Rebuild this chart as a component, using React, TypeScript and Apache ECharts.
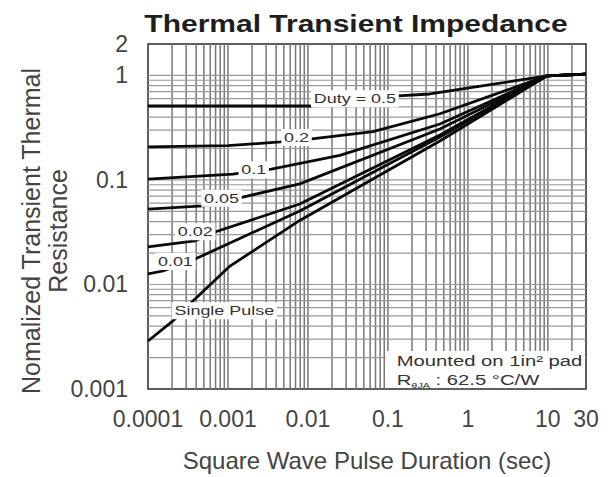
import React, { useEffect, useRef } from "react";
import * as echarts from "echarts";

const FONT = "'Liberation Sans', Arial, Helvetica, sans-serif";

// Axis ranges
const xMin = 0.0001;
const xMax = 30;
const yMin = 0.001;
const yMax = 2;

// Log grid construction (multipliers inside each decade)
const gridMultipliers = [1, 2, 3, 4, 5, 6, 7, 8, 9];
const xDecadeExponents = [-4, -3, -2, -1, 0, 1];
const yDecadeExponents = [-3, -2, -1, 0];

// Curves: [pulse duration (s), normalized transient thermal resistance]
const dutyHalf: number[][] = [
  [0.0001, 0.51], [0.0106, 0.51], [0.133, 0.637], [0.335, 0.665], [9.7, 0.99], [30, 1.03],
];
const duty02: number[][] = [
  [0.0001, 0.207], [0.001, 0.213], [0.0045, 0.231], [0.0112, 0.247], [0.065, 0.29], [0.447, 0.43], [9.7, 0.99], [30, 1.03],
];
const duty01: number[][] = [
  [0.0001, 0.102], [0.00115, 0.114], [0.0035, 0.127], [0.025, 0.172], [0.447, 0.343], [9.7, 0.99], [30, 1.03],
];
const duty005: number[][] = [
  [0.0001, 0.0527], [0.000487, 0.0564], [0.00154, 0.0687], [0.0079, 0.0917], [0.447, 0.307], [9.7, 0.99], [30, 1.03],
];
const duty002: number[][] = [
  [0.0001, 0.0229], [0.000387, 0.0261], [0.000688, 0.0318], [0.0079, 0.0589], [0.447, 0.27], [9.7, 0.99], [30, 1.03],
];
const duty001: number[][] = [
  [0.0001, 0.0126], [0.000154, 0.01346], [0.000387, 0.0175], [0.0079, 0.0505], [0.447, 0.258], [9.7, 0.99], [30, 1.03],
];
const singlePulse: number[][] = [
  [0.0001, 0.00288], [0.000205, 0.00448], [0.000387, 0.00727], [0.00106, 0.015], [0.0079, 0.041], [0.447, 0.236], [9.7, 0.99], [30, 1.03],
];

const curveData = [dutyHalf, duty02, duty01, duty005, duty002, duty001, singlePulse];
const curveLabelTexts = ["Duty = 0.5", "0.2", "0.1", "0.05", "0.02", "0.01", "Single Pulse"];
const curveLabelAnchors: number[][] = [
  [0.0387, 0.6], [0.0072, 0.255], [0.0021, 0.125], [0.00083, 0.067], [0.00039, 0.032], [0.00022, 0.0166], [0.0009, 0.0056],
];

const titleText = "Thermal Transient Impedance";
const xAxisTitle = "Square Wave Pulse Duration (sec)";
const yAxisTitle = "Nomalized Transient Thermal\nResistance";
const noteLine1 = "Mounted on 1in\u00B2 pad";
const noteBoxCorner = [0.094, 0.00231];

function fmt(v: number): string {
  return String(+Number(v).toPrecision(6));
}

export default function App() {
  const ref = useRef<HTMLDivElement>(null);

  useEffect(() => {
    const el = ref.current!;
    const chart = echarts.init(el, null, { renderer: "svg" });

    const vValues: number[] = [];
    xDecadeExponents.forEach((e) =>
      gridMultipliers.forEach((m) => {
        const v = +(m * Math.pow(10, e)).toPrecision(6);
        if (v > xMin && v < xMax) vValues.push(v);
      })
    );
    const hValues: number[] = [];
    yDecadeExponents.forEach((e) =>
      gridMultipliers.forEach((m) => {
        const v = +(m * Math.pow(10, e)).toPrecision(6);
        if (v > yMin && v < yMax) hValues.push(v);
      })
    );

    const curveSeries = curveData.map((data, i) => ({
      type: "line",
      name: curveLabelTexts[i],
      data,
      showSymbol: false,
      symbol: "none",
      silent: true,
      z: 3,
      lineStyle: { color: "#0a0a0a", width: 2.8 },
    }));

    chart.setOption({
      animation: false,
      backgroundColor: "#ffffff",
      grid: {
        left: 148,
        right: 26,
        top: 44,
        bottom: 87,
        show: true,
        borderColor: "#2a2a2a",
        borderWidth: 1.5,
        backgroundColor: "#ffffff",
      },
      xAxis: {
        type: "log",
        logBase: 10,
        min: xMin,
        max: xMax,
        axisLine: { show: false },
        axisTick: { show: false },
        splitLine: { show: false },
        axisLabel: {
          fontSize: 23,
          color: "#444",
          fontFamily: FONT,
          margin: 18,
          formatter: (v: number) => fmt(v),
        },
        name: xAxisTitle,
        nameLocation: "middle",
        nameGap: 59,
        nameTextStyle: { fontSize: 24, color: "#444", fontFamily: FONT },
      },
      yAxis: {
        type: "log",
        logBase: 10,
        min: yMin,
        max: yMax,
        axisLine: { show: false },
        axisTick: { show: false },
        splitLine: { show: false },
        axisLabel: {
          fontSize: 23,
          color: "#444",
          fontFamily: FONT,
          margin: 20,
          formatter: (v: number) => fmt(v),
        },
      },
      series: [
        {
          type: "custom",
          silent: true,
          z: 1,
          data: vValues.map((v) => [v, yMin]),
          encode: { x: 0, y: 1 },
          renderItem: (_p: any, api: any) => {
            const v = api.value(0);
            const a = api.coord([v, yMin]);
            const b = api.coord([v, yMax]);
            return {
              type: "line",
              shape: { x1: a[0], y1: a[1], x2: b[0], y2: b[1] },
              style: { stroke: "#777777", lineWidth: 1.5 },
            };
          },
        },
        {
          type: "custom",
          silent: true,
          z: 1,
          data: hValues.map((v) => [xMin, v]),
          encode: { x: 0, y: 1 },
          renderItem: (_p: any, api: any) => {
            const v = api.value(1);
            const a = api.coord([xMin, v]);
            const b = api.coord([xMax, v]);
            return {
              type: "line",
              shape: { x1: a[0], y1: a[1], x2: b[0], y2: b[1] },
              style: { stroke: "#999999", lineWidth: 1.2 },
            };
          },
        },
        ...curveSeries,
      ],
    });

    const px = (p: number[]) => chart.convertToPixel({ gridIndex: 0 }, p) as number[];

    const labelEls = curveLabelTexts.map((t, i) => {
      const [x, y] = px(curveLabelAnchors[i]);
      return {
        type: "text",
        x,
        y,
        scaleX: 1.38,
        z: 20,
        silent: true,
        style: {
          text: t,
          x: 0,
          y: 0,
          align: "center",
          verticalAlign: "middle",
          fontSize: 13,
          fontFamily: FONT,
          fill: "#333",
          backgroundColor: "#fff",
          padding: [2, 2],
        },
      };
    });

    const c1 = px(noteBoxCorner);
    const c2 = px([xMax, yMin]);

    chart.setOption({
      graphic: [
        {
          type: "text",
          x: 356,
          y: 24,
          scaleX: 1.25,
          silent: true,
          style: {
            text: titleText,
            x: 0,
            y: 0,
            align: "center",
            verticalAlign: "middle",
            fontSize: 24,
            fontWeight: "bold",
            fontFamily: FONT,
            fill: "#1e1e1e",
          },
        },
        {
          type: "text",
          x: 44,
          y: 231,
          rotation: Math.PI / 2,
          silent: true,
          style: {
            text: yAxisTitle,
            x: 0,
            y: 0,
            align: "center",
            verticalAlign: "middle",
            fontSize: 25,
            lineHeight: 27,
            fontFamily: FONT,
            fill: "#444",
          },
        },
        ...labelEls,
        {
          type: "rect",
          z: 15,
          silent: true,
          shape: { x: c1[0], y: c1[1], width: c2[0] - c1[0] - 1, height: c2[1] - c1[1] - 1 },
          style: { fill: "#fff" },
        },
        {
          type: "text",
          x: c1[0] + 11,
          y: c1[1] + 10,
          scaleX: 1.35,
          z: 20,
          silent: true,
          style: {
            text: noteLine1,
            x: 0,
            y: 0,
            align: "left",
            verticalAlign: "middle",
            fontSize: 15,
            fontFamily: FONT,
            fill: "#333",
          },
        },
        {
          type: "text",
          x: c1[0] + 11,
          y: c1[1] + 29,
          scaleX: 1.35,
          z: 20,
          silent: true,
          style: {
            text: "{r|R}{s|\u03B8JA}{n| : 62.5 \u00B0C/W}",
            x: 0,
            y: 0,
            align: "left",
            verticalAlign: "middle",
            fontFamily: FONT,
            fill: "#333",
            rich: {
              r: { fontSize: 15, lineHeight: 18, fontFamily: FONT, fill: "#333" },
              s: { fontSize: 8, lineHeight: 18, verticalAlign: "bottom", fontFamily: FONT, fill: "#333", padding: [6, 0, 0, 0] },
              n: { fontSize: 15, lineHeight: 18, fontFamily: FONT, fill: "#333" },
            },
          },
        },
      ],
    });

    return () => chart.dispose();
  }, []);

  return (
    <div
      ref={ref}
      style={{ position: "absolute", left: 0, top: 0, width: 612, height: 477, background: "#fff" }}
    />
  );
}
